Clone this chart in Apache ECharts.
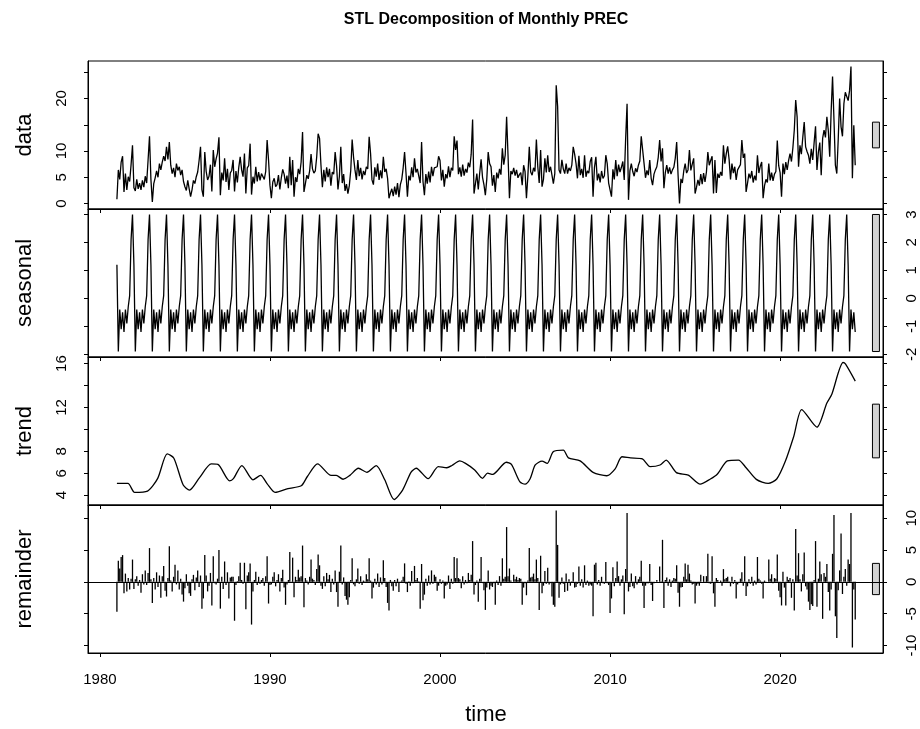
<!DOCTYPE html>
<html>
<head>
<meta charset="utf-8">
<title>STL Decomposition of Monthly PREC</title>
<script src="https://cdn.jsdelivr.net/npm/echarts@6.0.0/dist/echarts.min.js"></script>
<style>
  html, body { margin: 0; padding: 0; background: #fff; }
  #chart { width: 920px; height: 729px; }
</style>
</head>
<body>
<div id="chart"></div>
<script>
// monthly series, Jan 1981 .. Jun 2024, one row per year
const startYear = 1981;

const dataRows = [
  [0.8, 6.4, 4.6, 7.9, 9.0, 2.2, 5.7, 2.6, 5.1, 4.2, 7.4, 11.1],
  [3.0, 2.4, 4.6, 2.8, 3.9, 2.6, 4.4, 3.1, 5.2, 3.9, 8.3, 12.8],
  [4.6, 0.3, 3.8, 4.9, 6.2, 5.0, 7.6, 6.4, 7.9, 9.0, 8.1, 10.8],
  [8.4, 11.7, 7.3, 5.7, 6.8, 5.0, 7.6, 6.3, 7.0, 5.4, 6.4, 4.2],
  [3.2, 2.5, 4.4, 2.8, 1.3, 2.6, 4.4, 3.8, 5.1, 6.0, 8.2, 10.8],
  [2.6, 1.3, 9.8, 6.1, 4.5, 5.2, 7.4, 2.3, 10.2, 7.0, 8.5, 9.6],
  [12.6, 1.6, 5.9, 4.4, 8.6, 4.1, 6.6, 2.6, 5.8, 6.3, 8.3, 2.3],
  [6.2, 4.0, 6.9, 8.9, 6.4, 5.1, 9.5, 1.9, 6.8, 7.2, 11.4, 1.7],
  [5.1, 3.8, 7.0, 4.2, 6.0, 4.4, 5.7, 5.5, 4.6, 6.1, 12.1, 8.3],
  [3.5, 1.0, 4.1, 4.8, 3.2, 3.6, 5.4, 2.7, 4.9, 6.5, 5.6, 3.8],
  [5.3, 2.9, 8.9, 3.5, 8.3, 1.3, 5.0, 4.1, 6.6, 5.6, 7.9, 13.6],
  [2.2, 3.8, 5.4, 4.7, 6.2, 9.4, 6.6, 5.8, 6.2, 8.9, 13.3, 12.4],
  [7.3, 3.1, 6.4, 4.2, 6.9, 5.0, 6.6, 3.4, 6.0, 5.6, 9.8, 7.2],
  [2.7, 5.2, 10.8, 3.9, 5.6, 2.4, 3.7, 1.9, 3.4, 6.3, 12.2, 8.8],
  [6.4, 4.5, 8.3, 5.2, 6.8, 4.6, 6.2, 5.4, 7.0, 6.6, 12.7, 9.5],
  [4.5, 3.6, 6.9, 5.1, 7.6, 4.5, 6.3, 4.8, 8.9, 6.0, 6.6, 4.8],
  [1.0, 2.0, 2.8, 1.4, 3.2, 1.7, 3.9, 1.2, 3.6, 4.6, 6.8, 9.8],
  [5.8, 1.3, 5.3, 4.4, 6.9, 5.0, 8.6, 5.9, 6.6, 6.4, 3.9, 11.7],
  [4.2, 1.6, 5.6, 3.8, 6.1, 4.0, 7.0, 5.2, 6.8, 7.1, 7.0, 9.0],
  [8.2, 4.4, 6.4, 3.2, 5.6, 4.8, 7.1, 5.0, 6.8, 6.3, 12.8, 10.2],
  [12.0, 5.6, 6.9, 5.1, 7.4, 5.3, 6.6, 5.9, 7.8, 6.9, 9.4, 16.0],
  [1.9, 3.8, 5.7, 2.7, 5.8, 8.4, 5.0, 3.6, 1.6, 4.6, 9.8, 7.6],
  [7.0, 3.4, 5.4, 2.2, 5.9, 4.8, 6.6, 5.5, 10.5, 7.4, 9.2, 16.5],
  [9.2, 1.0, 6.2, 5.6, 6.8, 5.3, 6.4, 4.9, 5.5, 5.9, 3.5, 7.3],
  [6.1, 1.0, 5.3, 10.8, 6.0, 5.4, 6.8, 6.1, 12.2, 7.0, 3.9, 10.2],
  [3.2, 4.6, 8.6, 5.9, 9.2, 6.0, 7.0, 5.4, 3.8, 5.7, 22.5, 18.5],
  [6.4, 5.7, 8.3, 6.6, 5.7, 7.6, 5.7, 6.8, 6.2, 7.3, 10.8, 9.4],
  [7.6, 4.8, 9.1, 5.4, 6.6, 4.9, 9.2, 5.1, 6.2, 5.8, 8.0, 8.8],
  [1.3, 6.9, 8.9, 4.4, 5.7, 4.0, 6.2, 4.8, 5.3, 9.2, 7.6, 3.9],
  [4.2, 1.3, 6.5, 4.6, 8.3, 5.2, 7.4, 6.0, 6.9, 8.0, 4.5, 12.4],
  [19.0, 0.7, 6.2, 7.6, 6.1, 5.2, 6.7, 6.0, 7.3, 8.1, 12.8, 10.2],
  [7.6, 4.9, 6.3, 5.4, 8.3, 4.8, 3.5, 5.6, 6.4, 7.0, 8.8, 12.1],
  [8.0, 10.5, 2.9, 5.9, 7.3, 5.7, 6.9, 5.6, 6.4, 6.9, 8.6, 11.7],
  [5.4, 0.0, 4.7, 3.9, 6.2, 7.6, 5.8, 6.4, 10.2, 6.3, 7.5, 8.6],
  [1.9, 3.1, 4.5, 3.4, 5.6, 3.7, 5.8, 4.1, 6.0, 9.8, 7.3, 8.2],
  [9.0, 1.9, 8.3, 2.0, 5.7, 4.9, 6.0, 5.3, 11.1, 7.6, 9.5, 10.9],
  [8.4, 4.6, 7.6, 5.8, 7.0, 4.5, 6.4, 6.2, 7.4, 12.1, 8.7, 9.5],
  [2.2, 3.9, 5.7, 4.8, 6.2, 4.0, 5.3, 4.4, 9.2, 5.8, 7.1, 7.9],
  [1.0, 3.4, 4.6, 4.0, 7.6, 4.4, 5.9, 4.3, 5.6, 6.1, 12.0, 7.2],
  [5.9, 1.3, 7.6, 5.6, 7.9, 6.4, 8.2, 9.5, 8.0, 10.6, 14.0, 19.7],
  [16.5, 7.0, 11.1, 9.4, 12.6, 15.5, 10.8, 9.9, 9.2, 7.6, 10.4, 8.3],
  [11.6, 14.7, 6.4, 9.8, 11.6, 5.4, 12.4, 14.0, 12.6, 16.5, 13.9, 8.9],
  [17.5, 24.2, 16.0, 7.3, 5.7, 12.2, 20.0, 14.6, 12.8, 19.0, 21.2, 20.9],
  [19.6, 21.5, 26.1, 4.8, 14.9, 7.3]
];

// periodic seasonal component, Jan .. Dec
const seasonalMonths = [1.2, -1.9, -0.4, -1.1, -0.5, -1.2, -0.4, -0.9, -0.3, 0.1, 2.1, 3.0];

// trend: [time, value]
const trendPoints = [
  [1981.0, 5.07], [1981.65, 5.07], [1982.04, 4.25], [1982.8, 4.37], [1983.4, 5.53],
  [1983.96, 7.76], [1984.35, 7.37], [1984.9, 4.92], [1985.27, 4.46], [1985.86, 5.6],
  [1986.55, 6.85], [1986.94, 6.8], [1987.63, 5.3], [1987.85, 5.5], [1988.35, 6.7],
  [1989.0, 5.4], [1989.45, 5.8], [1989.85, 5.0], [1990.3, 4.25], [1991.06, 4.6],
  [1991.84, 4.85], [1992.2, 5.7], [1992.8, 6.85], [1993.6, 5.8], [1993.9, 5.8],
  [1994.3, 5.45], [1994.7, 5.8], [1995.2, 6.45], [1995.7, 6.08], [1996.25, 6.7],
  [1996.75, 5.4], [1997.3, 3.6], [1997.8, 4.46], [1998.3, 6.1], [1998.6, 6.45],
  [1999.3, 5.5], [1999.9, 6.6], [2000.4, 6.5], [2000.7, 6.7], [2001.16, 7.12],
  [2001.5, 6.9], [2002.04, 6.3], [2002.5, 5.53], [2002.8, 6.0], [2003.1, 5.9],
  [2003.9, 7.0], [2004.2, 6.8], [2004.7, 5.2], [2005.0, 5.0], [2005.3, 5.5],
  [2005.6, 6.75], [2006.0, 7.1], [2006.3, 6.9], [2006.67, 7.97], [2007.25, 8.1],
  [2007.55, 7.4], [2008.24, 7.12], [2009.0, 6.08], [2009.8, 5.77], [2010.3, 6.4],
  [2010.7, 7.5], [2011.2, 7.4], [2011.9, 7.3], [2012.35, 6.6], [2012.94, 6.75],
  [2013.3, 7.2], [2013.9, 6.05], [2014.6, 5.83], [2015.3, 5.0], [2015.9, 5.47],
  [2016.3, 5.9], [2016.9, 7.12], [2017.55, 7.2], [2018.0, 6.5], [2018.6, 5.44],
  [2019.3, 5.07], [2019.8, 5.47], [2020.3, 7.06], [2020.8, 9.35], [2021.27, 11.8],
  [2022.16, 10.2], [2022.75, 12.4], [2023.04, 13.2], [2023.7, 16.1], [2023.85, 15.95],
  [2024.42, 14.4]
];

const remainderRows = [
  [-4.7, 3.3, 2.1, 3.9, 4.2, -1.8, 1.3, -1.5, 0.6, -1.2, 0.5, 3.5],
  [-1.1, 0.4, 0.9, -0.6, 0.3, -1.7, 1.2, -0.4, 1.8, -0.5, 1.4, 5.3],
  [0.4, -3.3, 0.6, -1.2, 1.5, -0.8, 1.0, -2.5, 0.9, 2.5, -1.4, -2.3],
  [0.6, 5.6, 0.2, -1.5, 0.8, 2.7, -0.4, 1.8, -1.2, 0.5, -2.0, -3.1],
  [-1.0, 1.2, -0.6, -1.8, -2.2, 0.4, 1.1, -1.3, 0.7, 1.8, -0.8, 1.0],
  [-4.2, -2.6, 4.2, 1.0, -1.5, -0.6, 1.4, -3.7, 4.0, -0.2, -0.4, 0.5],
  [5.0, -4.2, 0.8, -1.1, 3.2, -0.5, 1.5, -2.6, 0.7, 0.8, 0.8, -6.1],
  [-0.5, 0.1, 0.9, 3.0, 0.3, -0.3, 3.0, -4.3, 1.0, 1.5, 2.9, -6.7],
  [-1.5, 0.3, 1.6, -0.5, 0.8, -0.3, 0.3, 0.6, -0.6, 0.9, 4.0, -3.4],
  [-0.5, -0.4, 0.8, 1.5, -0.7, 0.3, 1.2, -1.5, 0.6, 1.9, -0.9, -3.6],
  [-0.4, 0.3, 4.7, -0.1, 3.8, -2.4, 0.8, 0.3, 1.9, 0.7, 0.9, 5.7],
  [-4.0, 0.6, 0.2, -0.4, 0.8, 3.5, 0.5, 0.3, -0.5, 2.0, 4.3, 2.6],
  [-0.6, -1.1, 0.9, -0.7, 1.4, 0.4, 1.1, -1.6, 0.5, -0.4, 1.8, -1.6],
  [-3.9, 1.6, 5.7, -0.4, 0.7, -2.2, -2.8, -3.6, -2.4, 0.3, 3.7, -0.4],
  [-0.7, 0.4, 2.1, -0.3, 0.9, -0.5, 0.2, 0.1, 1.2, 0.4, 3.7, 0.2],
  [-2.6, -0.9, 0.5, -0.4, 1.3, -0.8, 0.7, -0.4, 3.4, 0.6, -0.8, -3.3],
  [-4.5, 0.3, -0.7, -1.4, 0.3, -0.7, 0.5, -1.6, -0.1, 0.2, 0.8, 2.9],
  [-0.3, -1.6, 0.1, -0.6, 1.7, -0.2, 2.5, 0.3, 0.6, 0.1, -4.2, 2.8],
  [-2.9, -2.0, 0.5, -0.6, 1.0, -0.4, 1.8, -0.3, 1.1, 0.8, -1.4, -0.6],
  [0.4, -0.3, 0.2, -2.6, -0.6, -0.4, 1.0, -1.1, 0.5, -0.3, 3.9, 0.6],
  [3.7, 0.6, 0.4, -1.0, 0.9, -0.4, 0.3, -0.2, 1.4, 0.3, 1.1, 6.4],
  [-2.0, -0.5, 0.2, -3.1, 0.5, 3.9, -0.2, -1.3, -4.4, -0.9, 1.8, -1.2],
  [-0.6, -0.8, -0.2, -3.6, 0.2, -0.5, 0.9, -0.6, 3.7, 0.5, 0.8, 8.6],
  [0.9, 2.1, 0.2, 0.0, 1.1, 0.4, 0.8, 0.3, 0.6, 0.5, -3.6, -0.9],
  [-0.2, -2.1, 0.2, 5.3, 0.7, 0.8, 1.3, 0.4, 3.5, 0.6, -4.4, 4.1],
  [-1.8, -0.6, 1.7, -0.3, 2.2, -0.4, -0.2, -2.3, -3.6, -3.9, 11.2, 5.8],
  [-2.5, -0.4, 0.7, -0.3, -1.6, 1.3, -1.4, 0.4, -0.6, 0.1, 1.5, -0.9],
  [-0.8, -0.3, 2.4, -0.6, 0.4, -0.9, 2.6, -0.5, 0.2, -0.6, -0.4, -0.6],
  [-5.4, 2.7, 3.0, -0.4, 0.3, -0.6, 0.8, -0.2, -0.3, 3.1, -0.2, -0.5],
  [-4.9, -2.6, 2.3, -0.7, 0.6, 3.2, 0.9, -0.6, 0.4, 1.0, -5.1, 2.0],
  [10.8, -1.5, -0.8, 1.3, -0.7, -1.0, 0.9, -0.4, 0.4, 0.8, 3.3, -0.6],
  [-4.1, -0.6, -0.2, -0.2, 2.8, -0.5, -3.0, -0.2, 0.0, 0.3, 0.0, 2.4],
  [0.1, 6.6, -4.1, 0.3, 0.7, -0.6, 0.4, -0.8, 0.2, 0.6, 0.5, 2.6],
  [-1.7, -3.9, -0.9, -0.8, 0.8, 2.9, 0.4, 2.7, 1.3, 0.2, -0.4, -0.3],
  [-3.4, -0.6, -0.3, -0.6, 1.1, 0.0, 0.9, -0.1, 0.9, 4.4, -0.2, -0.3],
  [4.0, -1.8, -3.9, 0.6, 0.3, 0.0, 0.2, -0.6, 2.0, 0.4, 0.6, 0.8],
  [0.1, -0.7, 0.8, -0.3, 0.3, -2.6, -0.4, -0.1, 0.5, 1.5, -0.6, 4.0],
  [-2.2, -0.7, 0.4, -0.3, 0.8, -0.6, 0.2, -0.4, 3.9, 0.5, 0.2, -0.3],
  [-2.6, 0.2, -0.1, 0.0, 3.5, 0.5, 1.2, -0.2, 0.6, 0.5, 4.3, -1.4],
  [-2.4, -3.7, 1.6, -0.9, -3.7, 0.8, 0.3, 0.6, -2.5, 0.4, -4.5, 8.3],
  [1.0, 4.5, 0.4, -1.5, 1.2, 4.6, -0.7, -1.2, -3.1, -4.4, -3.5, -3.8],
  [0.3, 6.4, -3.9, 0.5, 3.2, 1.2, -5.8, 1.4, 0.8, 2.8, -1.6, -4.5],
  [-1.2, 4.4, 10.5, -5.4, -8.8, -1.3, 1.8, 7.6, -1.9, 0.8, 2.0, -0.6],
  [3.5, 2.8, 10.8, -10.3, -1.2, -5.9]
];

const timeTicks = [1980, 1990, 2000, 2010, 2020];
const panelNames = ['data', 'seasonal', 'trend', 'remainder'];
const yTicks = [[0, 5, 10, 15, 20, 25], [-2, -1, 0, 1, 2, 3], [4, 6, 8, 10, 12, 14, 16], [-10, -5, 0, 5, 10]];
const yLabels = [[0, 5, 10, 20], [-2, -1, 0, 1, 2, 3], [4, 6, 8, 12, 16], [-10, -5, 0, 5, 10]];

// ---- build series ----
const dataVals = dataRows.flat();
const remVals = remainderRows.flat();
const times = dataVals.map((_, i) => startYear + i / 12);
const seasVals = times.map((_, i) => seasonalMonths[i % 12]);
const trendVals = trendPoints.map(p => p[1]);

const seriesVals = [dataVals, seasVals, trendVals, remVals];
function padRange(v) {
  const lo = Math.min(...v), hi = Math.max(...v), r = hi - lo;
  return [lo - 0.04 * r, hi + 0.04 * r, lo, hi];
}
const ranges = seriesVals.map(padRange);
// grey bars: all the same height in data units (smallest panel range)
const barH = Math.min(...ranges.map(r => r[3] - r[2]));
const barX = [2025.43, 2025.84];

const xMin = 1979.3, xMax = 2026.05;
const font = '"Liberation Sans", Arial, sans-serif';
const panelTop = [61, 209, 357, 505];
const panelH = 148;

const grids = panelTop.map(t => ({
  left: 88, right: 37, top: t, height: panelH,
  show: true, borderColor: '#000', borderWidth: 1
}));

const plain = v => String(v);

const xAxes = panelTop.map((t, p) => ({
  gridIndex: p, type: 'value', min: xMin, max: xMax,
  axisLine: { show: true, onZero: false, lineStyle: { color: '#000', width: 1 } },
  axisTick: { show: true, length: 4, customValues: timeTicks, lineStyle: { color: '#000' } },
  axisLabel: { show: p === 3, customValues: timeTicks, formatter: plain, margin: 19,
    fontSize: 15, color: '#000', fontFamily: font },
  splitLine: { show: false }
}));

const yAxes = [];
panelTop.forEach((t, p) => {
  const labelsRight = p % 2 === 1;
  ['left', 'right'].forEach(side => {
    const withLabels = (side === 'right') === labelsRight;
    yAxes.push({
      gridIndex: p, type: 'value', position: side,
      min: ranges[p][0], max: ranges[p][1],
      axisLine: { show: true, onZero: false, lineStyle: { color: '#000', width: 1 } },
      axisTick: { show: true, length: 4, customValues: yTicks[p], lineStyle: { color: '#000' } },
      axisLabel: {
        show: withLabels, customValues: yLabels[p], formatter: plain, rotate: 90,
        margin: side === 'left' ? 19 : 21, fontSize: 15, color: '#000', fontFamily: font
      },
      splitLine: { show: false }
    });
  });
});

function scaleBar(p) {
  const mid = (ranges[p][2] + ranges[p][3]) / 2;
  return {
    type: 'custom', xAxisIndex: p, yAxisIndex: 2 * p, silent: true,
    data: [[barX[0], barX[1], mid - barH / 2, mid + barH / 2]],
    renderItem: (params, api) => {
      const a = api.coord([api.value(0), api.value(3)]);
      const b = api.coord([api.value(1), api.value(2)]);
      return {
        type: 'rect',
        shape: { x: a[0], y: a[1], width: b[0] - a[0], height: b[1] - a[1] },
        style: { fill: '#d3d3d3', stroke: '#000', lineWidth: 1 }
      };
    }
  };
}

const lineStyle = { color: '#000', width: 1.3 };
const series = [
  { type: 'line', xAxisIndex: 0, yAxisIndex: 0, showSymbol: false, silent: true,
    data: times.map((t, i) => [t, dataVals[i]]), lineStyle },
  { type: 'line', xAxisIndex: 1, yAxisIndex: 2, showSymbol: false, silent: true,
    data: times.map((t, i) => [t, seasVals[i]]), lineStyle },
  { type: 'line', xAxisIndex: 2, yAxisIndex: 4, showSymbol: false, silent: true, smooth: 0.25,
    data: trendPoints, lineStyle },
  { type: 'custom', xAxisIndex: 3, yAxisIndex: 6, silent: true,
    data: times.map((t, i) => [t, remVals[i]]),
    renderItem: (params, api) => {
      const a = api.coord([api.value(0), 0]);
      const b = api.coord([api.value(0), api.value(1)]);
      return { type: 'line', shape: { x1: a[0], y1: a[1], x2: b[0], y2: b[1] },
        style: { stroke: '#000', lineWidth: 1.3 } };
    },
    markLine: { silent: true, symbol: 'none', label: { show: false },
      lineStyle: { color: '#000', width: 1, type: 'solid' }, data: [{ yAxis: 0 }] }
  },
  scaleBar(0), scaleBar(1), scaleBar(2), scaleBar(3)
];

const graphic = [
  { type: 'text', x: 486, y: 20, style: { text: 'STL Decomposition of Monthly PREC',
    font: 'bold 16px ' + font, fill: '#000', align: 'center', verticalAlign: 'middle' } },
  { type: 'text', x: 486, y: 715, style: { text: 'time',
    font: '22px ' + font, fill: '#000', align: 'center', verticalAlign: 'middle' } }
].concat(panelNames.map((name, p) => ({
  type: 'text', x: 25, y: panelTop[p] + panelH / 2, rotation: Math.PI / 2,
  style: { text: name, font: '22px ' + font, fill: '#000', align: 'center', verticalAlign: 'middle' }
})));

const chart = echarts.init(document.getElementById('chart'));
chart.setOption({
  animation: false,
  backgroundColor: '#fff',
  textStyle: { fontFamily: font },
  grid: grids,
  xAxis: xAxes,
  yAxis: yAxes,
  series: series,
  graphic: graphic
});
</script>
</body>
</html>
